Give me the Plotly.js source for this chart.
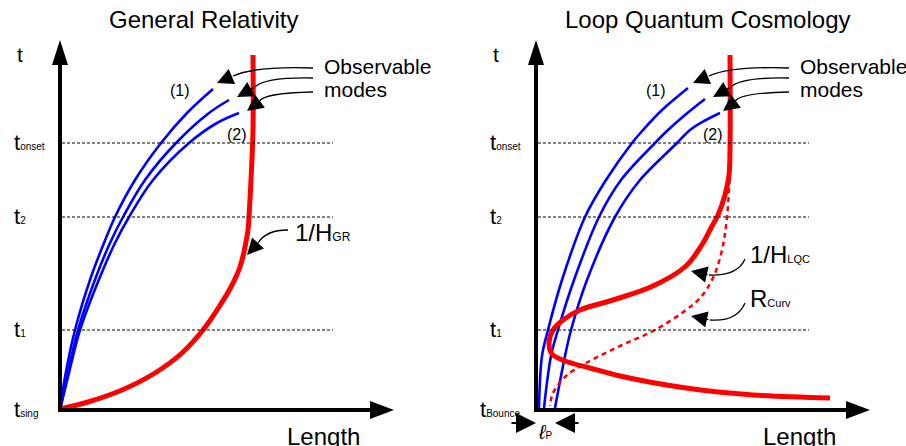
<!DOCTYPE html>
<html><head><meta charset="utf-8">
<script src="https://cdn.plot.ly/plotly-3.0.1.min.js"></script>
<style>html,body{margin:0;padding:0;background:#fff}#chart{width:906px;height:446px}</style>
</head><body><div id="chart"></div>
<script>
// ---------- data: local coordinates (length from origin, time above origin) ----------
const panelTitles = ['General Relativity', 'Loop Quantum Cosmology'];
const tickTimes = [267, 193, 80, 0];
const tickSubsGR = ['onset', '2', '1', 'sing'];
const tickSubsLQC = ['onset', '2', '1', 'Bounce'];
const gridLength = 273;

// General Relativity: three observable modes (blue)
const grMode1X = [0, 5, 15, 31, 44, 55, 75, 101, 127, 153];
const grMode1T = [0, 33, 80, 133, 167, 193, 230, 267, 297, 321];
const grMode2X = [0, 7, 18, 36, 50, 63, 85, 116, 149, 169];
const grMode2T = [0, 33, 80, 133, 167, 193, 230, 267, 297, 310];
const grMode3X = [0, 8, 20, 40, 55, 69, 93, 129, 157, 179];
const grMode3T = [0, 33, 80, 133, 167, 193, 230, 267, 287, 297];
// General Relativity: Hubble radius 1/H_GR (red)
const grHubbleX = [0, 28, 62, 95, 122, 143, 159, 171, 180, 185, 188, 189, 191, 193, 193];
const grHubbleT = [1, 8, 20, 37, 57, 80, 103, 123, 143, 163, 180, 193, 230, 280, 355];

// LQC: three observable modes (blue)
const lqcMode1X = [3, 6, 12, 26, 49, 70, 96, 107, 126, 152];
const lqcMode1T = [2, 54, 80, 130, 193, 230, 267, 280, 300, 322];
const lqcMode2X = [8, 15, 22, 38, 63, 85, 119, 132, 149, 169];
const lqcMode2T = [2, 54, 80, 130, 193, 230, 267, 280, 295, 311];
const lqcMode3X = [19, 29, 35, 51, 79, 104, 141, 154, 168, 184];
const lqcMode3T = [2, 54, 80, 130, 193, 230, 267, 280, 289, 297];
// LQC: Hubble radius 1/H_LQC (red, solid)
const lqcHubbleX = [194, 194, 193, 189, 182, 175, 167, 150, 117, 77, 44, 27, 17, 13, 16, 29, 54, 84, 150, 217, 294];
const lqcHubbleT = [355, 260, 235, 215, 195, 182, 167, 144, 124, 110, 100, 90, 80, 67, 56, 49, 42, 34, 22, 15, 12];
// LQC: curvature radius R_Curv (red, dashed)
const lqcCurvX = [194, 191, 186, 177, 164, 150, 119, 84, 50, 30, 17, 14];
const lqcCurvT = [240, 193, 160, 132, 112, 100, 80, 64, 47, 34, 17, 4];

// pointer arrows: [tailX, tailT, ctrlX, ctrlT, baseX, baseT, tipX, tipT]
const modeArrows = [
  [253, 342, 195, 344, 173, 334, 157, 327],
  [253, 332, 205, 333, 195, 323, 177, 313],
  [253, 318, 202, 317, 199, 308, 187, 299]
];
const grHubbleArrow = [228, 180, 206, 180, 198, 167, 187, 155];
const lqcHubbleArrow = [209, 151, 202, 134, 173, 135, 155, 139];
const lqcCurvArrow = [209, 107, 201, 88, 174, 90, 155, 94];

// ---------- build ----------
const BLUE = '#0000ff', RED = '#ff0000';
const FONT = 'Liberation Sans, Arial, sans-serif';
const traces = [];
function line(x, y, xa, color, width, dash) {
  traces.push({x: x, y: y, xaxis: xa, yaxis: 'y', mode: 'lines', hoverinfo: 'skip',
    line: {color: color, width: width, shape: 'spline', smoothing: 1, dash: dash || 'solid'}});
}
line(grMode1X, grMode1T, 'x', BLUE, 2.6);
line(grMode2X, grMode2T, 'x', BLUE, 2.6);
line(grMode3X, grMode3T, 'x', BLUE, 2.6);
line(grHubbleX, grHubbleT, 'x', RED, 5);
line(lqcMode1X, lqcMode1T, 'x2', BLUE, 2.6);
line(lqcMode2X, lqcMode2T, 'x2', BLUE, 2.6);
line(lqcMode3X, lqcMode3T, 'x2', BLUE, 2.6);
line(lqcCurvX, lqcCurvT, 'x2', RED, 2.5, '5px,4px');
line(lqcHubbleX, lqcHubbleT, 'x2', RED, 5);

const shapes = [];
const annotations = [];
function txt(xref, x, y, text, size, opts) {
  annotations.push(Object.assign({xref: xref, yref: 'y', x: x, y: y, text: text, showarrow: false,
    font: {family: FONT, size: size, color: '#000'}, xanchor: 'center', yanchor: 'middle'}, opts || {}));
}
function pointer(xref, a, w) {
  shapes.push({type: 'path', xref: xref, yref: 'y',
    path: 'M' + a[0] + ',' + a[1] + ' Q' + a[2] + ',' + a[3] + ' ' + a[4] + ',' + a[5],
    line: {color: '#000', width: w || 1.3}});
  annotations.push({xref: xref, yref: 'y', axref: xref, ayref: 'y', x: a[6], y: a[7], ax: a[4], ay: a[5],
    text: '', showarrow: true, arrowhead: 2, arrowsize: 2.5, arrowwidth: 1.3, arrowcolor: '#000', standoff: 0});
}

['x', 'x2'].forEach(function (xr, p) {
  // axes
  shapes.push({type: 'line', xref: xr, yref: 'y', x0: 0, y0: -2, x1: 0, y1: 350, line: {color: '#000', width: 4}});
  shapes.push({type: 'line', xref: xr, yref: 'y', x0: -2, y0: 0, x1: 315, y1: 0, line: {color: '#000', width: 4}});
  shapes.push({type: 'path', xref: xr, yref: 'y', path: 'M-8,345 L8,345 L0,370 Z', fillcolor: '#000', line: {width: 0}});
  shapes.push({type: 'path', xref: xr, yref: 'y', path: 'M310,-9 L310,9 L334,0 Z', fillcolor: '#000', line: {width: 0}});
  // dashed time levels
  tickTimes.slice(0, 3).forEach(function (t) {
    shapes.push({type: 'line', xref: xr, yref: 'y', x0: 2, y0: t, x1: gridLength, y1: t,
      line: {color: '#000', width: 1, dash: '3px,2px'}});
  });
  const subs = p === 0 ? tickSubsGR : tickSubsLQC;
  tickTimes.forEach(function (t, i) {
    const last = i === 3;
    txt(xr, (p === 1 && last) ? -58 : -48, t + 1, 't<span style="font-size:10px">' + subs[i] + '</span>', 22,
      {xanchor: 'left'});
  });
  txt(xr, -40, 356, 't', 21);
  txt(xr, p === 0 ? 143 : 172, 391, panelTitles[p], 24);
  txt(xr, 263, -26, 'Length', 24);
  txt(xr, 120, 320, '(1)', 16);
  txt(xr, 177, 276, '(2)', 16);
  txt(xr, 262, 344, 'Observable', 21, {xanchor: 'left'});
  txt(xr, 262, 321, 'modes', 21, {xanchor: 'left'});
  modeArrows.forEach(function (a) { pointer(xr, a); });
});

txt('x', 233, 178, '1/H<span style="font-size:12px">GR</span>', 24, {xanchor: 'left'});
pointer('x', grHubbleArrow);
txt('x2', 212, 156, '1/H<span style="font-size:11px">LQC</span>', 24, {xanchor: 'left'});
pointer('x2', lqcHubbleArrow);
txt('x2', 212, 112, 'R<span style="font-size:11px">Curv</span>', 24, {xanchor: 'left'});
pointer('x2', lqcCurvArrow);

// Planck length marker
annotations.push({xref: 'x2', yref: 'y', axref: 'x2', ayref: 'y', x: 0, y: -13, ax: -26, ay: -13, text: '',
  showarrow: true, arrowhead: 2, arrowsize: 2, arrowwidth: 2, arrowcolor: '#000', standoff: 0});
annotations.push({xref: 'x2', yref: 'y', axref: 'x2', ayref: 'y', x: 19, y: -13, ax: 44, ay: -13, text: '',
  showarrow: true, arrowhead: 2, arrowsize: 2, arrowwidth: 2, arrowcolor: '#000', standoff: 0});
txt('x2', 9, -22, '<i>ℓ</i><span style="font-size:10px">P</span>', 20);

const layout = {
  width: 906, height: 446, margin: {l: 0, r: 0, t: 0, b: 0},
  paper_bgcolor: '#fff', plot_bgcolor: '#fff', showlegend: false,
  xaxis: {range: [-60, 846], visible: false, fixedrange: true},
  xaxis2: {range: [-536, 370], visible: false, overlaying: 'x', fixedrange: true},
  yaxis: {range: [-36, 410], visible: false, fixedrange: true},
  shapes: shapes, annotations: annotations
};
Plotly.newPlot('chart', traces, layout, {staticPlot: true, displayModeBar: false});
</script></body></html>
